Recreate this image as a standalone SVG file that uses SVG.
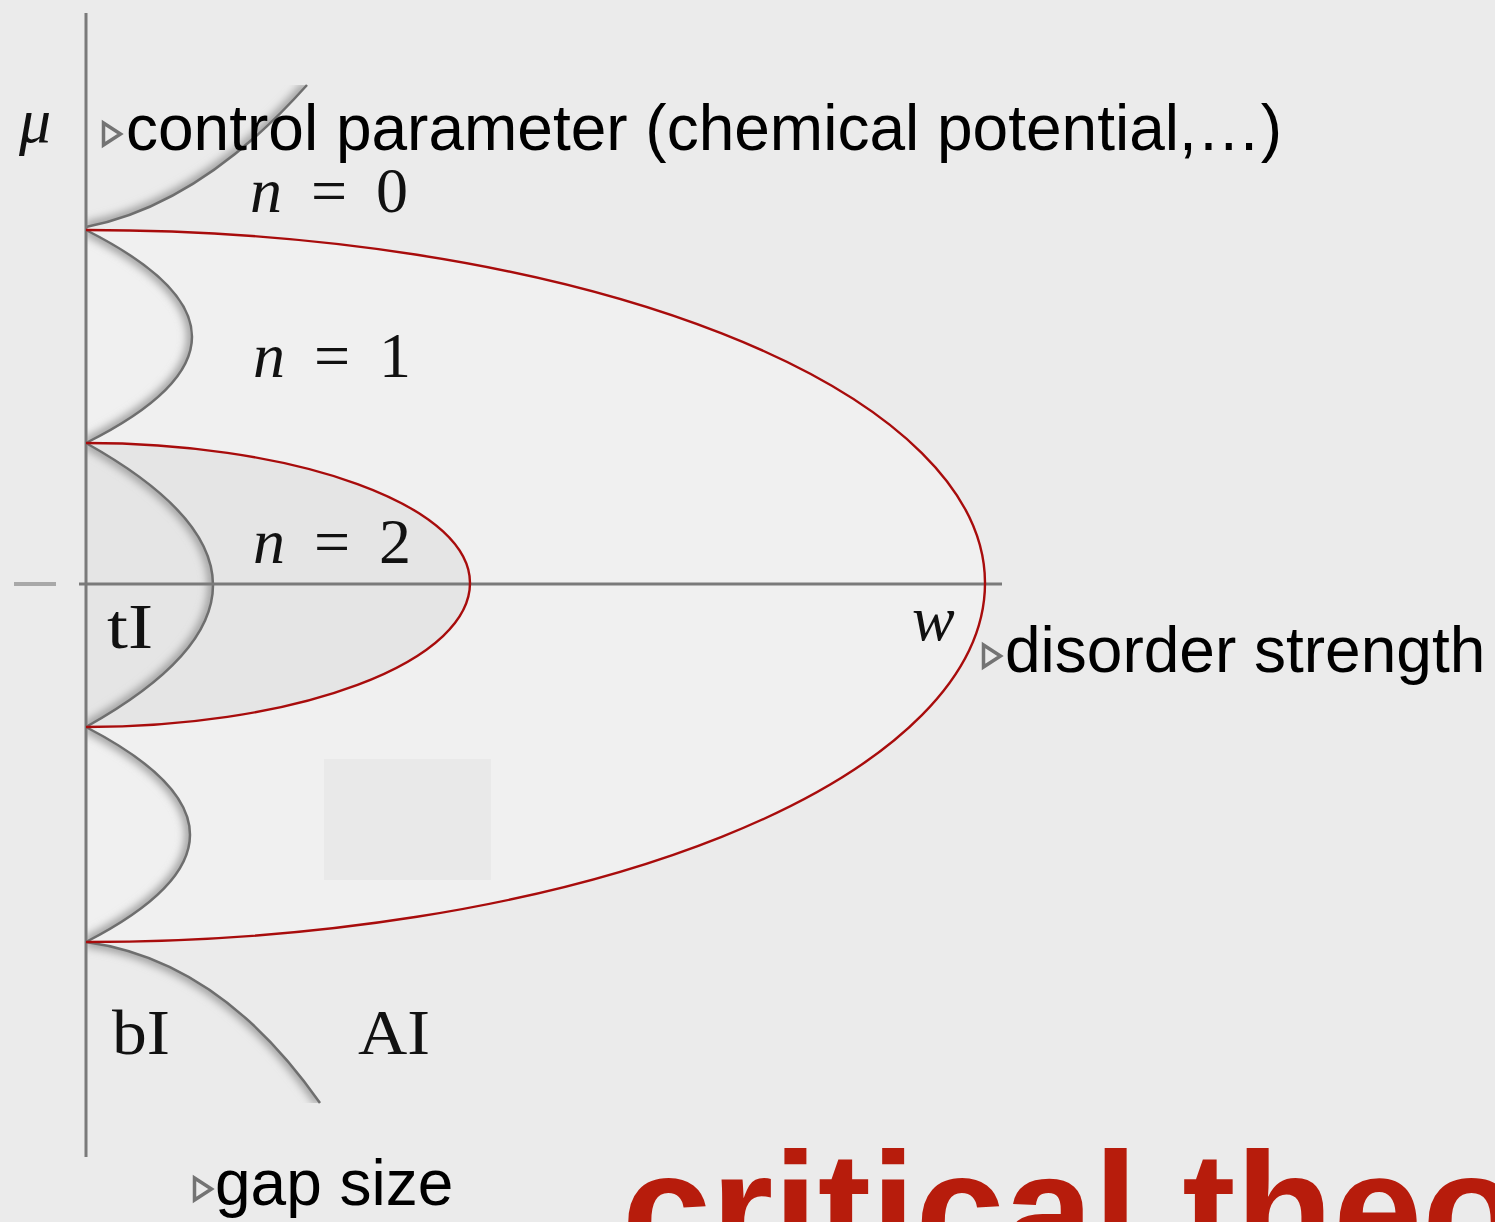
<svg xmlns="http://www.w3.org/2000/svg" width="1495" height="1222" viewBox="0 0 1495 1222">
<style>
.math{font-family:"Liberation Serif","DejaVu Serif",serif;font-size:64px;fill:#111}
.it{font-style:italic}
.ann{font-family:"Liberation Sans",Arial,sans-serif;font-size:64px;fill:#000}
.tri{fill:none;stroke:#737373;stroke-width:3.5;stroke-linejoin:miter}
.red{fill:none;stroke:#a80c0c;stroke-width:2.4}
.gap{fill:none;stroke:#6e6e6e;stroke-width:2.5}
.glow{fill:none;stroke:#9c9c9c;stroke-width:10}
.axis{stroke:#7a7a7a;stroke-width:3;fill:none}
</style>
<defs>
<filter id="soft" x="-30%" y="-30%" width="160%" height="160%"><feGaussianBlur stdDeviation="4"/></filter>
<clipPath id="cTop"><path d="M86,227 Q200,205 307,85 L86,85 Z"/></clipPath>
<clipPath id="cB1"><path d="M86,230 Q298,337 86,443 Z"/></clipPath>
<clipPath id="cB2"><path d="M86,443 Q340,585 86,727 Z"/></clipPath>
<clipPath id="cB3"><path d="M86,727 Q294,835 86,942 Z"/></clipPath>
<clipPath id="cBot"><path d="M86,942 Q220,960 320,1103 L86,1103 Z"/></clipPath>
</defs>
<rect width="1495" height="1222" fill="#ebebeb"/>

<g id="regions">
<path id="outer-region" d="M86,230 A899,353 0 0 1 985,583 A899,359 0 0 1 86,942 Z" fill="#f0f0f0"/>
<path id="inner-region" d="M86,443 A384,140 0 0 1 470,583 A384,144 0 0 1 86,727 Z" fill="#e5e5e5"/>
<rect id="patch" x="324" y="759" width="167" height="121" fill="#e9e9e9"/>
</g>

<g id="gap-curves">
<g clip-path="url(#cTop)"><path class="glow" filter="url(#soft)" d="M86,227 Q200,205 307,85"/></g>
<g clip-path="url(#cB1)"><path class="glow" filter="url(#soft)" d="M86,230 Q298,337 86,443"/></g>
<g clip-path="url(#cB2)"><path class="glow" filter="url(#soft)" d="M86,443 Q340,585 86,727"/></g>
<g clip-path="url(#cB3)"><path class="glow" filter="url(#soft)" d="M86,727 Q294,835 86,942"/></g>
<g clip-path="url(#cBot)"><path class="glow" filter="url(#soft)" d="M86,942 Q220,960 320,1103"/></g>
<path class="gap" d="M86,227 Q200,205 307,85"/>
<path class="gap" d="M86,230 Q298,337 86,443"/>
<path class="gap" d="M86,443 Q340,585 86,727"/>
<path class="gap" d="M86,727 Q294,835 86,942"/>
<path class="gap" d="M86,942 Q220,960 320,1103"/>
</g>

<g id="connectors">
<line id="axis-mu" class="axis" x1="86" y1="13" x2="86" y2="1157"/>
<line id="axis-w" class="axis" x1="79" y1="584" x2="1002" y2="584"/>
<rect id="tick" x="14" y="582" width="42" height="4" fill="#a8a8a8"/>
<path id="outer-boundary" class="red" d="M86,230 A899,353 0 0 1 985,583 A899,359 0 0 1 86,942"/>
<path id="inner-boundary" class="red" d="M86,443 A384,140 0 0 1 470,583 A384,144 0 0 1 86,727"/>
</g>

<g id="math-labels">
<text id="mu" class="math it" x="19" y="142" font-size="72">μ</text>
<text id="n0" class="math" x="250" y="212" word-spacing="13"><tspan class="it">n</tspan> = 0</text>
<text id="n1" class="math" x="253" y="377" word-spacing="13"><tspan class="it">n</tspan> = 1</text>
<text id="n2" class="math" x="253" y="563" word-spacing="13"><tspan class="it">n</tspan> = 2</text>
<text id="tI" class="math" x="107" y="648" font-size="68" textLength="46" lengthAdjust="spacingAndGlyphs">tI</text>
<text id="w" class="math it" x="912" y="640">w</text>
<text id="bI" class="math" x="112" y="1054" font-size="68" textLength="58" lengthAdjust="spacingAndGlyphs">bI</text>
<text id="AI" class="math" x="358" y="1054" font-size="68" textLength="72" lengthAdjust="spacingAndGlyphs">AI</text>
</g>

<g id="annotation-control">
<polygon class="tri" points="103.5,123 120.5,134 103.5,145"/>
<text class="ann" x="126" y="150">control parameter (chemical potential,…)</text>
</g>
<g id="annotation-disorder">
<polygon class="tri" points="983.5,645 1000.5,656 983.5,667"/>
<text class="ann" x="1005" y="672">disorder strength</text>
</g>
<g id="annotation-gap">
<polygon class="tri" points="194.5,1178 211.5,1189 194.5,1200"/>
<text class="ann" x="215" y="1205">gap size</text>
</g>

<g id="title">
<text x="622" y="1264" font-family="'Liberation Sans',Arial,sans-serif" font-weight="bold" font-size="160" fill="#b71c0c">critical theo</text>
</g>
</svg>
